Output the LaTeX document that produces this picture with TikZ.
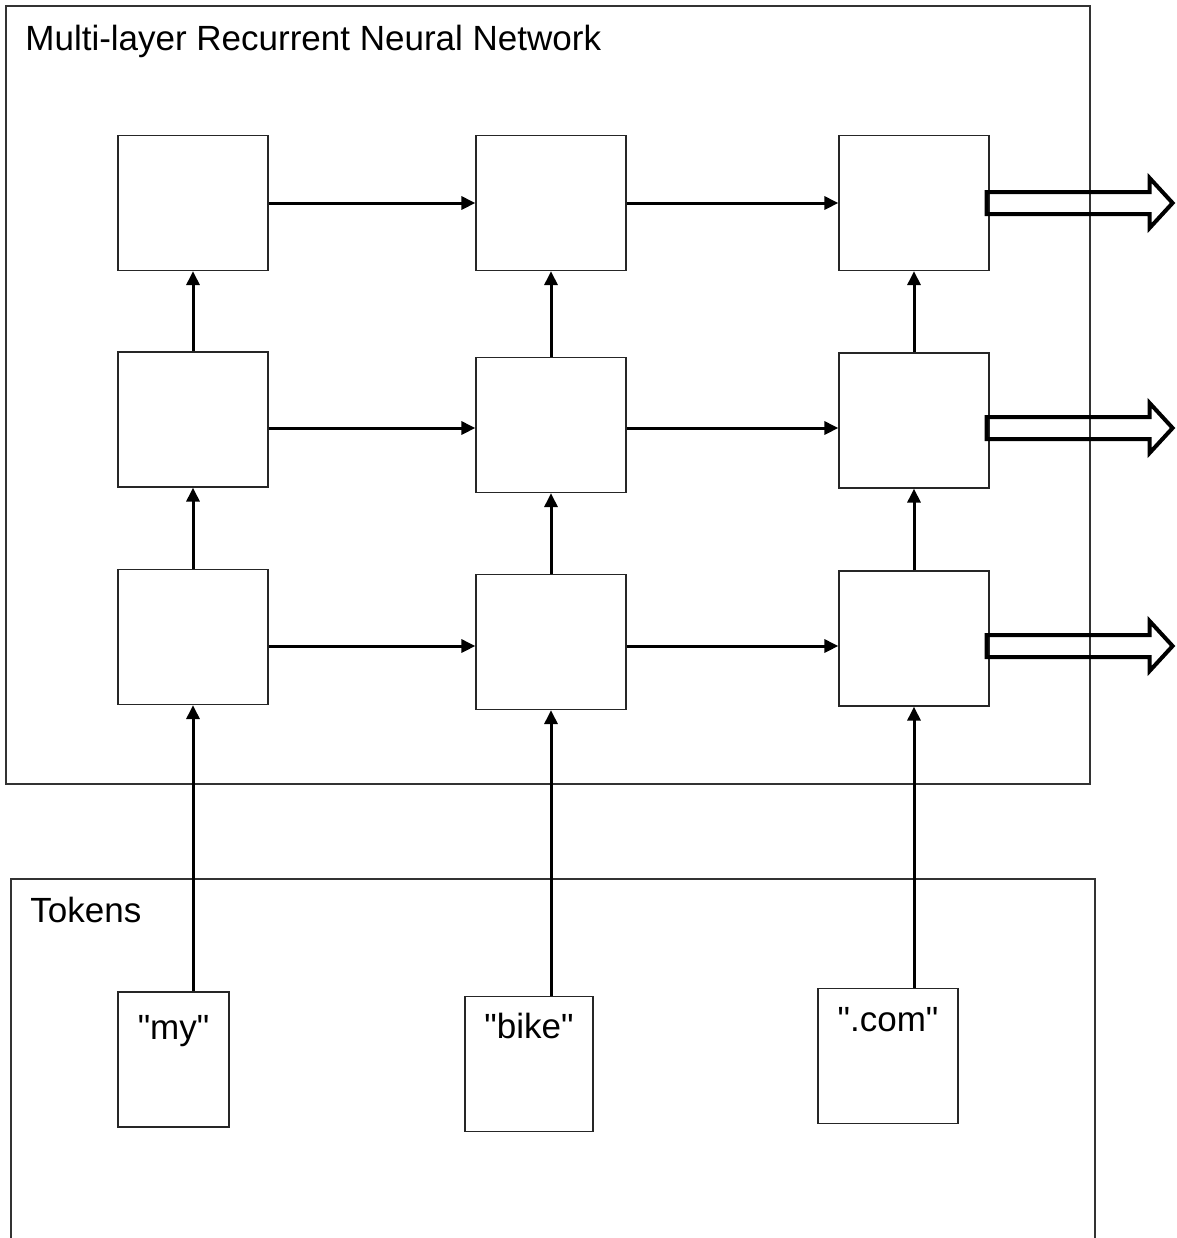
\documentclass[tikz,border=0pt]{standalone}
\usepackage{fontspec}
\setmainfont{Liberation Sans}[Ligatures=TeXOff]
\usetikzlibrary{arrows.meta, positioning, calc}

\tikzset{
  cell/.style={draw=black!85, line width=0.6pt, minimum width=75pt, minimum height=67.5pt, inner sep=0pt},
  frame/.style={draw=black!80, line width=0.6pt},
  link/.style={-{Triangle[length=7pt,width=6.5pt]}, line width=1.5pt},
  hollow/.style={draw, line width=2pt, line join=miter},
  txt/.style={font=\fontsize{17.5}{21}\selectfont, inner sep=0pt},
}

\begin{document}
\begin{tikzpicture}[x=0.5pt, y=-0.5pt]
\useasboundingbox (0,0) rectangle (1177,1238);
% outer frames
\draw[frame] (6,6) rectangle (1090,784);
\draw[frame] (11,1238) |- (1095,879) -- (1095,1238);
\node[txt, anchor=base west] (rnn) at (25,50) {Multi-layer Recurrent Neural Network};
\node[txt, anchor=base west] (tok) at (30,922) {Tokens};

% recurrent cells (row, column)
\node[cell] (c11) at (193,203) {};
\node[cell] (c12) at (551,203) {};
\node[cell] (c13) at (914,203) {};
\node[cell] (c21) at (193,419.5) {};
\node[cell] (c22) at (551,425) {};
\node[cell] (c23) at (914,420.5) {};
\node[cell] (c31) at (193,637) {};
\node[cell] (c32) at (551,642) {};
\node[cell] (c33) at (914,638.5) {};
\coordinate (r1) at (0,203);
\coordinate (r2) at (0,428);
\coordinate (r3) at (0,646);

% token boxes
\node[cell, minimum width=55.5pt] (t1) at (173.5,1059.5) {};
\node[cell, minimum width=64pt] (t2) at (529,1064) {};
\node[cell, minimum width=70pt] (t3) at (888,1056) {};
\node[txt, anchor=base] (w1) at ($(t1.north)+(0,48)$) {"my"};
\node[txt, anchor=base] (w2) at ($(t2.north)+(0,43)$) {"bike"};
\node[txt, anchor=base] (w3) at ($(t3.north)+(0,44)$) {".com"};

% connections
\foreach \r in {1,2,3} {
  \draw[link] (c\r1.east |- r\r) -- (c\r2.west |- r\r);
  \draw[link] (c\r2.east |- r\r) -- (c\r3.west |- r\r);
  % outputs
  \draw[hollow] (c\r3.east |- r\r) ++(-3,-11) -- ++(163,0) -- ++(0,-14) -- ++(23,25)
    -- ++(-23,25) -- ++(0,-14) -- ++(-163,0) -- cycle;
}
\foreach \c in {1,2,3} {
  \draw[link] (c3\c.north) -- (c2\c.south);
  \draw[link] (c2\c.north) -- (c1\c.south);
  \draw[link] (c3\c.south |- t\c.north) -- (c3\c.south);
}
\end{tikzpicture}
\end{document}
